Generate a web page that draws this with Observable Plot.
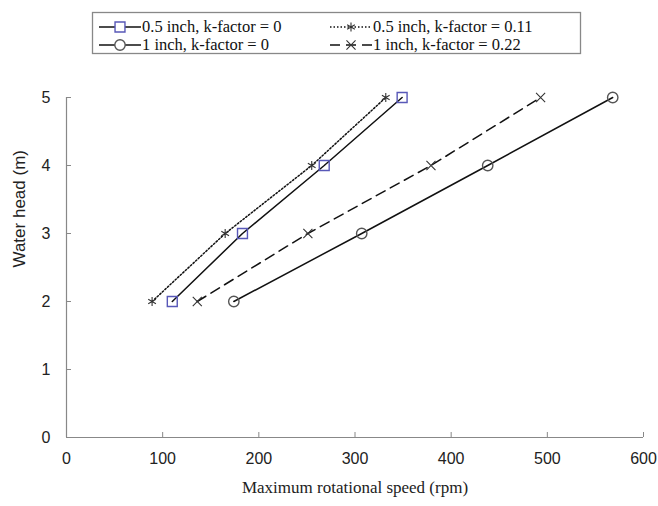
<!DOCTYPE html>
<html>
<head>
<meta charset="utf-8">
<script src="https://cdn.jsdelivr.net/npm/d3@7"></script>
<script src="https://cdn.jsdelivr.net/npm/@observablehq/plot@0.6"></script>
<style>
  html, body { margin: 0; padding: 0; background: white; }
  #wrap { width: 658px; }
  #legend { display: block; }
  .serif-title text { font-family: 'Liberation Serif', 'Times New Roman', serif !important; }
</style>
</head>
<body>
<div id="wrap"></div>
<script>
// ---- data ----
const heads = [2, 3, 4, 5];                       // water head (m)
const speedHalfK0   = [110, 183, 268, 349];       // 0.5 inch, k-factor = 0
const speedHalfK011 = [89, 165, 255, 332];        // 0.5 inch, k-factor = 0.11
const speedOneK0    = [174, 307, 438, 568];       // 1 inch, k-factor = 0
const speedOneK022  = [136, 251, 379, 493];       // 1 inch, k-factor = 0.22
const seriesNames = [
  "0.5 inch, k-factor = 0",
  "0.5 inch, k-factor = 0.11",
  "1 inch, k-factor = 0",
  "1 inch, k-factor = 0.22"
];
const xTicks = [0, 100, 200, 300, 400, 500, 600];
const yTicks = [0, 1, 2, 3, 4, 5];
const xTitle = "Maximum rotational speed (rpm)";
const yTitle = "Water head (m)";

// ---- styles per series ----
const seriesValues = [speedHalfK0, speedHalfK011, speedOneK0, speedOneK022];
const styles = [
  {dash: null,     symbol: "square",   r: 5.6, mstroke: "#5858b8", mwidth: 1.4},
  {dash: "1.5,2",  symbol: "asterisk", r: 4.2, mstroke: "#333",    mwidth: 1.1},
  {dash: null,     symbol: "circle",   r: 5.2, mstroke: "#555",    mwidth: 1.4},
  {dash: "10,6",   symbol: "times",    r: 4.2, mstroke: "#333",    mwidth: 1.1}
];

const rows = [];
seriesNames.forEach((name, i) => {
  heads.forEach((h, j) => rows.push({series: name, idx: i, head: h, speed: seriesValues[i][j]}));
});

// ---- legend (above the plot) ----
const legendH = 60;
const serif = "'Liberation Serif', 'Times New Roman', serif";
const lsvg = d3.create("svg")
  .attr("id", "legend")
  .attr("width", 658).attr("height", legendH);
lsvg.append("rect")
  .attr("x", 92.5).attr("y", 12.5).attr("width", 488).attr("height", 41)
  .attr("fill", "white").attr("stroke", "#888").attr("stroke-width", 1.3);
const legPos = [
  {x: 99, y: 27}, {x: 330, y: 27},
  {x: 99, y: 45}, {x: 330, y: 45}
];
seriesNames.forEach((name, i) => {
  const p = legPos[i], st = styles[i];
  const g = lsvg.append("g");
  g.append("line")
    .attr("x1", p.x).attr("x2", p.x + 42).attr("y1", p.y).attr("y2", p.y)
    .attr("stroke", "#111").attr("stroke-width", 1.5)
    .attr("stroke-dasharray", st.dash);
  const symType = {square: d3.symbolSquare, circle: d3.symbolCircle, times: d3.symbolTimes, asterisk: d3.symbolAsterisk}[st.symbol];
  g.append("path")
    .attr("transform", `translate(${p.x + 21},${p.y})`)
    .attr("d", d3.symbol(symType, Math.PI * st.r * st.r)())
    .attr("fill", st.symbol === "square" || st.symbol === "circle" ? "white" : "none")
    .attr("stroke", st.mstroke).attr("stroke-width", st.mwidth);
  g.append("text")
    .attr("x", p.x + 43).attr("y", p.y).attr("dy", "0.33em")
    .attr("font-family", serif)
    .attr("font-size", 16.5).attr("fill", "#111")
    .text(name);
});
document.getElementById("wrap").appendChild(lsvg.node());

// ---- plot ----
const W = 658, H = 506 - legendH;
const mL = 66, mR = 15, mT = 97 - legendH, mB = 69;
const innerW = W - mL - mR, innerH = H - mT - mB;

const chart = Plot.plot({
  width: W, height: H,
  marginLeft: mL, marginRight: mR, marginTop: mT, marginBottom: mB,
  x: {domain: [0, 600], ticks: xTicks},
  y: {domain: [0, 5], ticks: yTicks},
  style: {fontFamily: "'Liberation Sans', Arial, sans-serif", fontSize: "16px", color: "#222", background: "white"},
  marks: [
    Plot.ruleY([0], {stroke: "#888", strokeWidth: 1.2}),
    Plot.ruleX([0], {stroke: "#888", strokeWidth: 1.2}),
    Plot.tickX(xTicks, {x: d => d, stroke: "#888", insetTop: innerH - 5}),
    Plot.tickY(yTicks, {y: d => d, stroke: "#888", insetRight: innerW - 5}),
    Plot.axisX({ticks: xTicks, tickSize: 0, tickPadding: 15, tickFormat: d3.format("d"), label: null, fill: "#222"}),
    Plot.axisY({ticks: yTicks, tickSize: 0, tickPadding: 16, tickFormat: d3.format("d"), label: null, fill: "#222"}),
    ...seriesNames.map((name, i) =>
      Plot.line(rows.filter(d => d.idx === i), {
        x: "speed", y: "head", stroke: "#111", strokeWidth: 1.5,
        strokeDasharray: styles[i].dash || undefined
      })
    ),
    ...seriesNames.map((name, i) =>
      Plot.dot(rows.filter(d => d.idx === i), {
        x: "speed", y: "head", symbol: () => styles[i].symbol, r: styles[i].r,
        stroke: styles[i].mstroke, strokeWidth: styles[i].mwidth,
        fill: "none"
      })
    ),
    Plot.text([xTitle], {frameAnchor: "bottom", dy: 55, fontFamily: serif, fontSize: 17, fill: "#222", className: "serif-title"}),
    Plot.text([yTitle], {frameAnchor: "left", dx: -47, rotate: -90, fontSize: 17, fill: "#222"})
  ],
  symbol: {type: "identity"}
});
d3.select(chart).selectAll(".serif-title text").style("font-family", serif);
document.getElementById("wrap").appendChild(chart);
</script>
</body>
</html>
